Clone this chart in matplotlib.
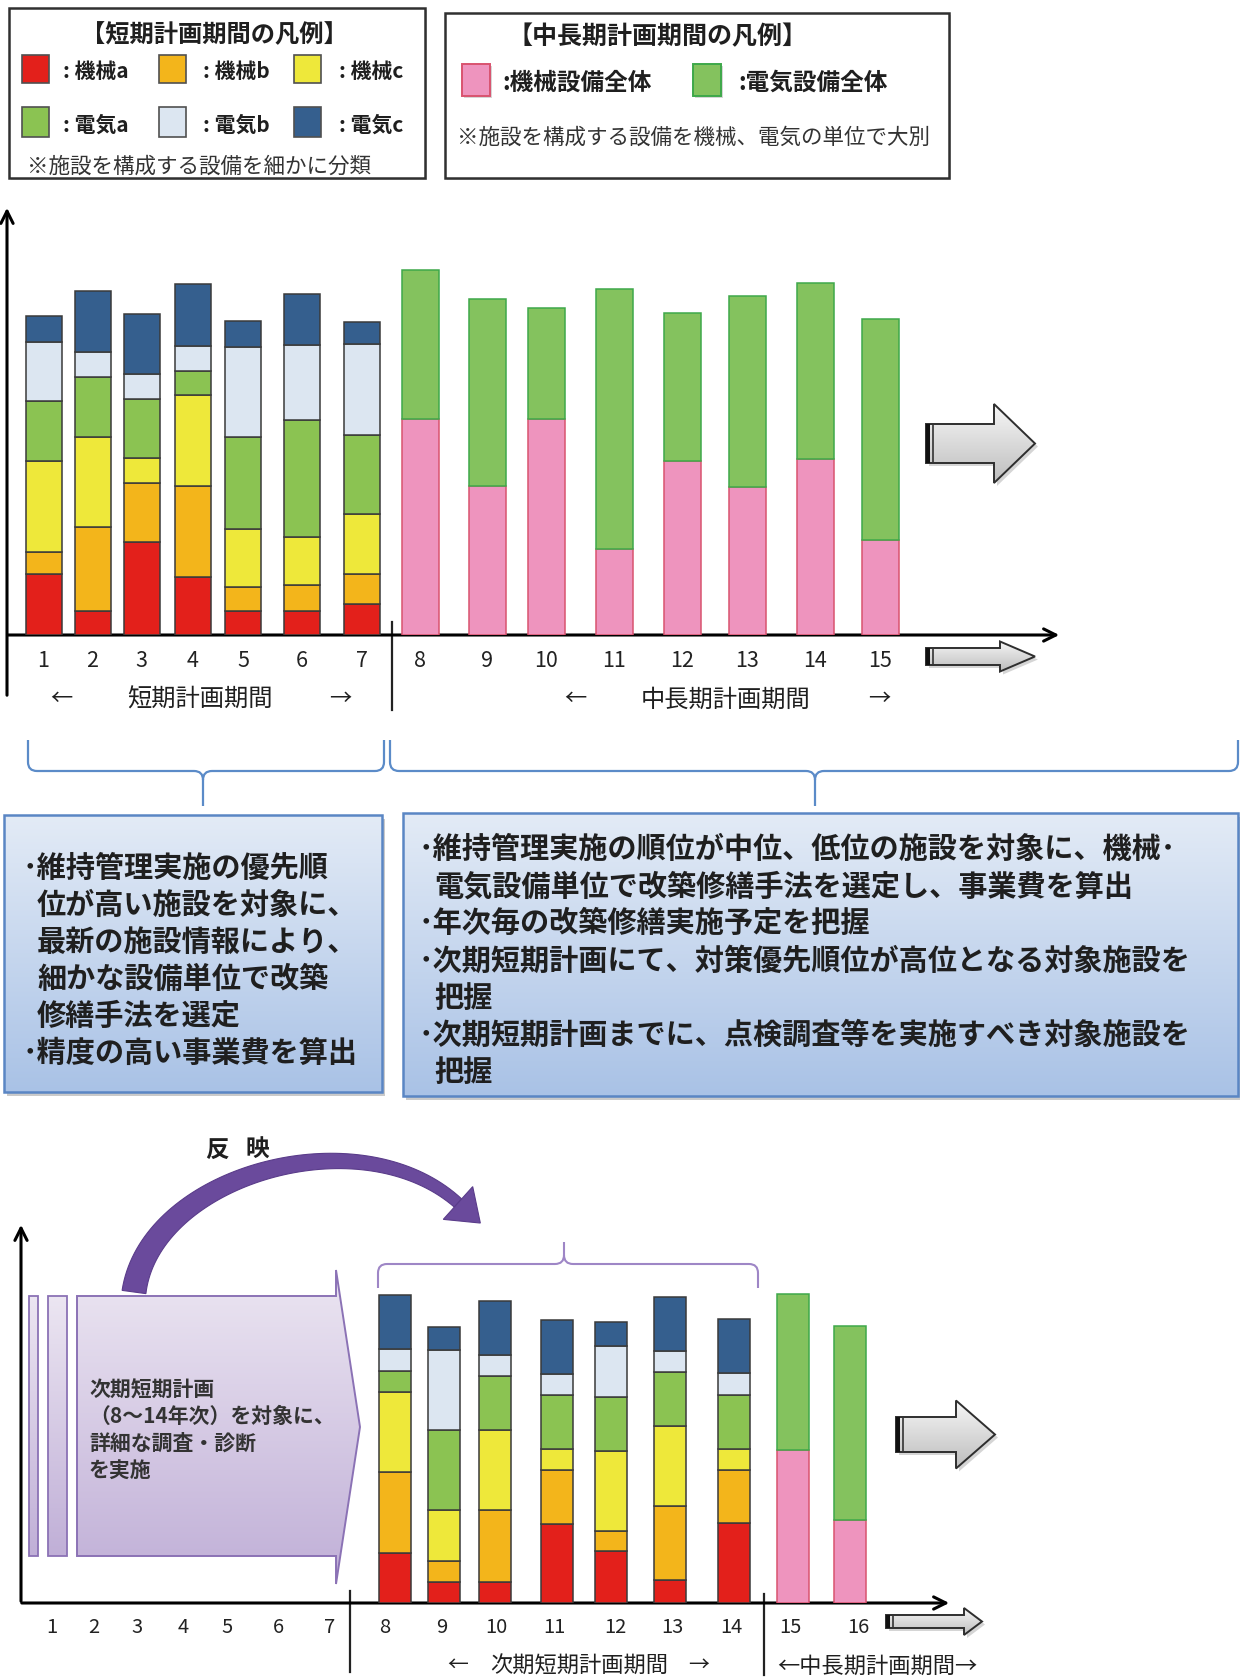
import numpy as np
import matplotlib
matplotlib.use('Agg')
import matplotlib.pyplot as plt
from matplotlib.patches import Polygon, Rectangle, PathPatch
from matplotlib.path import Path
import matplotlib.colors as mcolors

plt.rcParams['font.family'] = ['Noto Sans CJK JP', 'DejaVu Sans']

W, H = 1240, 1678

# ---------------- data ----------------
short_years = ['1', '2', '3', '4', '5', '6', '7']
kikai_a = [183, 73, 278, 175, 73, 73, 92]
kikai_b = [65, 250, 177, 272, 72, 77, 91]
kikai_c = [275, 270, 75, 273, 173, 143, 180]
denki_a = [180, 182, 178, 73, 275, 352, 237]
denki_b = [175, 73, 75, 75, 272, 225, 272]
denki_c = [80, 185, 180, 185, 78, 152, 66]

mid_years = ['8', '9', '10', '11', '12', '13', '14', '15']
kikai_all = [648, 447, 648, 258, 522, 445, 527, 285]
denki_all = [447, 560, 332, 779, 445, 573, 528, 663]

next_years = ['8', '9', '10', '11', '12', '13', '14']
n_kikai_a = [150, 62, 62, 238, 155, 70, 240]
n_kikai_b = [242, 63, 217, 162, 60, 220, 160]
n_kikai_c = [240, 154, 241, 62, 240, 240, 62]
n_denki_a = [65, 241, 162, 161, 163, 163, 163]
n_denki_b = [65, 240, 63, 65, 154, 64, 65]
n_denki_c = [161, 67, 160, 160, 70, 160, 163]

long_years = ['15', '16']
l_kikai_all = [459, 250]
l_denki_all = [469, 580]

bottom_tick_labels = [str(i) for i in range(1, 17)]

seg_names = ['機械a', '機械b', '機械c', '電気a', '電気b', '電気c']

# ---------------- layout / style ----------------
C_RED, C_ORG, C_YEL = '#E3201B', '#F3B51B', '#EEE83A'
C_GRN, C_LBL, C_NAV = '#8BC352', '#DCE6F1', '#355F8E'
C_PINK, C_GRN2 = '#EE94BE', '#84C25E'
seg_colors = [C_RED, C_ORG, C_YEL, C_GRN, C_LBL, C_NAV]

top_short_x = [43.5, 92.5, 141.5, 193, 243, 302, 362]
top_mid_x = [420, 487, 546, 614, 682, 747.5, 815, 880]
bot_next_x = [395, 444, 495, 556.5, 610.5, 670, 734]
bot_long_x = [793, 849.5]
bot_tick_x = [52, 94, 137.5, 183, 227, 278.6, 330,
              384.5, 441.6, 496, 554, 615, 672, 731, 790, 858.6]

TXT = '#1F1F1F'

fig = plt.figure(figsize=(W / 100, H / 100), dpi=100)
ov = fig.add_axes([0, 0, 1, 1])
ov.axis('off')


def set_ov():
    ov.set_xlim(0, W)
    ov.set_ylim(H, 0)


set_ov()


def grad_fill(ax, verts, c_top, c_bot, ec, lw, z):
    verts = np.array(verts, dtype=float)
    x0, x1 = verts[:, 0].min(), verts[:, 0].max()
    y0, y1 = verts[:, 1].min(), verts[:, 1].max()
    poly = Polygon(verts, closed=True, fc='none', ec=ec, lw=lw, zorder=z + 0.1)
    ax.add_patch(poly)
    c1 = np.array(mcolors.to_rgb(c_top))
    c2 = np.array(mcolors.to_rgb(c_bot))
    g = np.linspace(0, 1, 256)[:, None]
    img = (c1[None, :] * (1 - g) + c2[None, :] * g)[:, None, :]
    im = ax.imshow(img, extent=(x0, x1, y1, y0), origin='upper', aspect='auto',
                   zorder=z, interpolation='bilinear')
    im.set_clip_path(poly)
    return poly


def rect_verts(x0, y0, x1, y1):
    return [(x0, y0), (x1, y0), (x1, y1), (x0, y1)]


def block_arrow(x0, x1, xh, yc, body_h, head_h):
    b, hh = body_h / 2, head_h / 2
    verts = [(x0, yc - b), (xh, yc - b), (xh, yc - hh), (x1, yc),
             (xh, yc + hh), (xh, yc + b), (x0, yc + b)]
    sh = Polygon(np.array(verts) + [3, 3], closed=True, fc='#888888', ec='none',
                 alpha=0.35, zorder=1)
    ov.add_patch(sh)
    grad_fill(ov, verts, '#F7F7F7', '#BDBDBD', '#2E2E2E', 1.4, 2)
    ov.add_patch(Rectangle((x0, yc - b), 4, body_h, fc='#111111', ec='none', zorder=3))
    ov.plot([x0 + 7, x0 + 7], [yc - b, yc + b], color='#333333', lw=1.2, zorder=3)


def brace(x0, x1, xc, ytop, ymid, ytip, color, lw, r=9):
    s = np.sign(ymid - ytop)
    st = np.sign(ytip - ymid)
    verts = [(x0, ytop), (x0, ymid - s * r), (x0, ymid), (x0 + r, ymid),
             (xc - r, ymid), (xc, ymid), (xc, ymid + st * r), (xc, ytip),
             (xc, ymid + st * r), (xc, ymid), (xc + r, ymid),
             (x1 - r, ymid), (x1, ymid), (x1, ymid - s * r), (x1, ytop)]
    codes = [Path.MOVETO, Path.LINETO, Path.CURVE3, Path.CURVE3,
             Path.LINETO, Path.CURVE3, Path.CURVE3, Path.LINETO,
             Path.MOVETO, Path.CURVE3, Path.CURVE3,
             Path.LINETO, Path.CURVE3, Path.CURVE3, Path.LINETO]
    ov.add_patch(PathPatch(Path(verts, codes), fc='none', ec=color, lw=lw, zorder=3))


# ---------------- legends ----------------
for (x0, y0, x1, y1) in [(9, 8, 425, 178), (445, 13, 949, 178)]:
    ov.add_patch(Rectangle((x0 + 2, y0 + 2), x1 - x0, y1 - y0, fc='#999999', ec='none',
                           alpha=0.4, zorder=1))
    ov.add_patch(Rectangle((x0, y0), x1 - x0, y1 - y0, fc='white', ec='#303030',
                           lw=1.8, zorder=2))

ov.text(214, 35, '【短期計画期間の凡例】', ha='center', va='center', fontsize=17.5,
        fontweight='bold', color=TXT, zorder=5)
sw_x = [22, 159, 294]
lab_x = [63, 203, 339]
row_y = [(55, 83), (107, 137)]
for i, name in enumerate(seg_names):
    r, c = divmod(i, 3)
    ya, yb = row_y[r]
    ov.add_patch(Rectangle((sw_x[c], ya), 27, yb - ya, fc=seg_colors[i], ec='#505050',
                           lw=1.2, zorder=4))
    ov.text(lab_x[c], (ya + yb) / 2 + 3, ': ' + name, ha='left', va='center', fontsize=15,
            fontweight='bold', color=TXT, zorder=5)
ov.text(27, 167, '※施設を構成する設備を細かに分類', ha='left', va='center',
        fontsize=15.5, color='#333333', zorder=5)

ov.text(657, 37, '【中長期計画期間の凡例】', ha='center', va='center', fontsize=18,
        fontweight='bold', color=TXT, zorder=5)
ov.add_patch(Rectangle((464, 66), 28, 32, fc='#999999', ec='none', alpha=0.4, zorder=3))
ov.add_patch(Rectangle((462, 64), 28, 32, fc=C_PINK, ec='#D9536F', lw=1.4, zorder=4))
ov.text(502, 83, ':機械設備全体', ha='left', va='center', fontsize=17,
        fontweight='bold', color=TXT, zorder=5)
ov.add_patch(Rectangle((695, 66), 28, 32, fc='#999999', ec='none', alpha=0.4, zorder=3))
ov.add_patch(Rectangle((693, 64), 28, 32, fc=C_GRN2, ec='#3EA84A', lw=1.4, zorder=4))
ov.text(738, 83, ':電気設備全体', ha='left', va='center', fontsize=17,
        fontweight='bold', color=TXT, zorder=5)
ov.text(457, 138, '※施設を構成する設備を機械、電気の単位で大別', ha='left', va='center',
        fontsize=15.5, color='#333333', zorder=5)

# ---------------- top chart ----------------
ax1 = fig.add_axes([0, (H - 635) / H, 1, (635 - 200) / H])
ax1.set_facecolor('none')
ax1.set_xlim(0, W)
ax1.set_ylim(0, 1305)
bottom = np.zeros(len(short_years))
for vals, col in zip([kikai_a, kikai_b, kikai_c, denki_a, denki_b, denki_c], seg_colors):
    ax1.bar(top_short_x, vals, width=36, bottom=bottom, color=col, edgecolor='#3A3A3A',
            linewidth=1.1, zorder=3)
    bottom += np.array(vals)
ax1.bar(top_mid_x, kikai_all, width=37, color=C_PINK, edgecolor='#D9536F', linewidth=1.1,
        zorder=3)
ax1.bar(top_mid_x, denki_all, width=37, bottom=kikai_all, color=C_GRN2, edgecolor='#3EA84A',
        linewidth=1.1, zorder=3)
ax1.set_xticks(top_short_x + top_mid_x, labels=short_years + mid_years)
ax1.tick_params(axis='x', length=0, pad=11, labelsize=15.5, labelcolor='#222222')
ax1.set_yticks([])
for sp in ax1.spines.values():
    sp.set_visible(False)

ov.annotate('', xy=(7, 205), xytext=(7, 698),
            arrowprops=dict(arrowstyle='->', lw=2.2, color='black', mutation_scale=22))
ov.annotate('', xy=(1062, 635), xytext=(5, 635),
            arrowprops=dict(arrowstyle='->', lw=2.2, color='black', mutation_scale=22))
ov.plot([392, 392], [622, 710], color='#222222', lw=1.6)

ov.text(61, 699, '←', ha='center', va='center', fontsize=16, color=TXT)
ov.text(200, 700, '短期計画期間', ha='center', va='center', fontsize=17.5, color=TXT)
ov.text(340, 699, '→', ha='center', va='center', fontsize=16, color=TXT)
ov.text(575, 699, '←', ha='center', va='center', fontsize=16, color=TXT)
ov.text(726, 700, '中長期計画期間', ha='center', va='center', fontsize=17.5, color=TXT)
ov.text(879, 699, '→', ha='center', va='center', fontsize=16, color=TXT)

block_arrow(926, 1035, 994, 443.5, 39, 79)
block_arrow(926, 1035, 1000, 656.5, 17, 30)

# ---------------- braces & text boxes ----------------
brace(28, 384, 203, 740, 771, 806, '#5B8BC8', 1.6)
brace(390, 1238, 815, 740, 771, 806, '#5B8BC8', 1.6)

for (x0, y0, x1, y1) in [(4, 815, 382, 1092), (403, 813, 1238, 1096)]:
    ov.add_patch(Rectangle((x0 + 3, y0 + 4), x1 - x0, y1 - y0, fc='#8A8A8A', ec='none',
                           alpha=0.45, zorder=1))
    grad_fill(ov, rect_verts(x0, y0, x1, y1), '#E3EBF6', '#A9C2E6', '#5A86C4', 1.8, 2)

left_lines = [('･維持管理実施の優先順', 23), ('位が高い施設を対象に、', 37),
              ('最新の施設情報により、', 37), ('細かな設備単位で改築', 37),
              ('修繕手法を選定', 37), ('･精度の高い事業費を算出', 23)]
for i, (s, x) in enumerate(left_lines):
    ov.text(x, 868 + i * 37, s, ha='left', va='center', fontsize=21,
            fontweight='bold', color=TXT, zorder=5)

right_lines = [('･維持管理実施の順位が中位、低位の施設を対象に、機械･', 419),
               ('電気設備単位で改築修繕手法を選定し、事業費を算出', 434),
               ('･年次毎の改築修繕実施予定を把握', 419),
               ('･次期短期計画にて、対策優先順位が高位となる対象施設を', 419),
               ('把握', 434),
               ('･次期短期計画までに、点検調査等を実施すべき対象施設を', 419),
               ('把握', 434)]
for i, (s, x) in enumerate(right_lines):
    ov.text(x, 849 + i * 37.2, s, ha='left', va='center', fontsize=21,
            fontweight='bold', color=TXT, zorder=5)

# ---------------- bottom section ----------------
ov.text(217, 1150, '反', ha='center', va='center', fontsize=17, fontweight='bold', color=TXT)
ov.text(257, 1150, '映', ha='center', va='center', fontsize=17, fontweight='bold', color=TXT)

P_TOP, P_BOT, P_EC = '#ECE6F2', '#C0AFD7', '#8B72B5'
grad_fill(ov, rect_verts(29, 1296, 38, 1556), P_TOP, P_BOT, P_EC, 1.3, 2)
grad_fill(ov, rect_verts(47.5, 1296, 67, 1556), P_TOP, P_BOT, P_EC, 1.3, 2)
grad_fill(ov, [(77, 1296), (336, 1296), (336, 1270), (360, 1427), (336, 1584),
               (336, 1556), (77, 1556)], P_TOP, P_BOT, P_EC, 1.4, 2)
blk_lines = ['次期短期計画', '（8～14年次）を対象に、', '詳細な調査・診断', 'を実施']
for i, s in enumerate(blk_lines):
    ov.text(89, 1390 + i * 26.7, s, ha='left', va='center', fontsize=15,
            fontweight='bold', color='#333333', zorder=5)

# curved purple arrow
P0, P1, P2, P3 = map(np.array, [(134, 1292), (150, 1175), (360, 1115), (458, 1203)])
t = np.linspace(0, 1, 80)[:, None]
pts = (1 - t) ** 3 * P0 + 3 * (1 - t) ** 2 * t * P1 + 3 * (1 - t) * t ** 2 * P2 + t ** 3 * P3
d = 3 * (1 - t) ** 2 * (P1 - P0) + 6 * (1 - t) * t * (P2 - P1) + 3 * t ** 2 * (P3 - P2)
d = d / np.linalg.norm(d, axis=1)[:, None]
nrm = np.column_stack([-d[:, 1], d[:, 0]])
hw = (24 - 13 * t) / 2
side1 = pts + nrm * hw
side2 = pts - nrm * hw
shaft = np.vstack([side1, side2[::-1]])
ov.add_patch(Polygon(shaft, closed=True, fc='#6A4A9C', ec='#5A3C8A', lw=0.8, zorder=4))
dir_end = d[-1]
n_end = nrm[-1]
head = np.array([P3 + n_end * 22, P3 + dir_end * 30, P3 - n_end * 22])
ov.add_patch(Polygon(head, closed=True, fc='#6A4A9C', ec='#5A3C8A', lw=0.8, zorder=4))

brace(378, 758, 564, 1288, 1264, 1242, '#9E86C6', 1.5)

ax2 = fig.add_axes([0, (H - 1603) / H, 1, (1603 - 1160) / H])
ax2.set_facecolor('none')
ax2.set_xlim(0, W)
ax2.set_ylim(0, 1329)
bottom = np.zeros(len(next_years))
for vals, col in zip([n_kikai_a, n_kikai_b, n_kikai_c, n_denki_a, n_denki_b, n_denki_c],
                     seg_colors):
    ax2.bar(bot_next_x, vals, width=32, bottom=bottom, color=col, edgecolor='#3A3A3A',
            linewidth=1.1, zorder=3)
    bottom += np.array(vals)
ax2.bar(bot_long_x, l_kikai_all, width=32, color=C_PINK, edgecolor='#D9536F', linewidth=1.1,
        zorder=3)
ax2.bar(bot_long_x, l_denki_all, width=32, bottom=l_kikai_all, color=C_GRN2,
        edgecolor='#3EA84A', linewidth=1.1, zorder=3)
ax2.set_xticks(bot_tick_x, labels=bottom_tick_labels)
ax2.tick_params(axis='x', length=0, pad=10, labelsize=14.5, labelcolor='#222222')
ax2.set_yticks([])
for sp in ax2.spines.values():
    sp.set_visible(False)

ov.annotate('', xy=(21, 1222), xytext=(21, 1604),
            arrowprops=dict(arrowstyle='->', lw=2.2, color='black', mutation_scale=22))
ov.annotate('', xy=(952, 1603), xytext=(19, 1603),
            arrowprops=dict(arrowstyle='->', lw=2.2, color='black', mutation_scale=22))
ov.plot([350, 350], [1591, 1672], color='#222222', lw=1.6)
ov.plot([764, 764], [1594, 1675], color='#222222', lw=1.6)

ov.text(458, 1665, '←', ha='center', va='center', fontsize=15, color=TXT)
ov.text(579, 1666, '次期短期計画期間', ha='center', va='center', fontsize=16, color=TXT)
ov.text(699, 1665, '→', ha='center', va='center', fontsize=15, color=TXT)
ov.text(877, 1666, '←中長期計画期間→', ha='center', va='center', fontsize=16, color=TXT)

block_arrow(896, 995, 956, 1434.5, 35, 68)
block_arrow(886, 982, 964, 1621.5, 13, 27)

set_ov()
fig.savefig('out.png', dpi=100)
